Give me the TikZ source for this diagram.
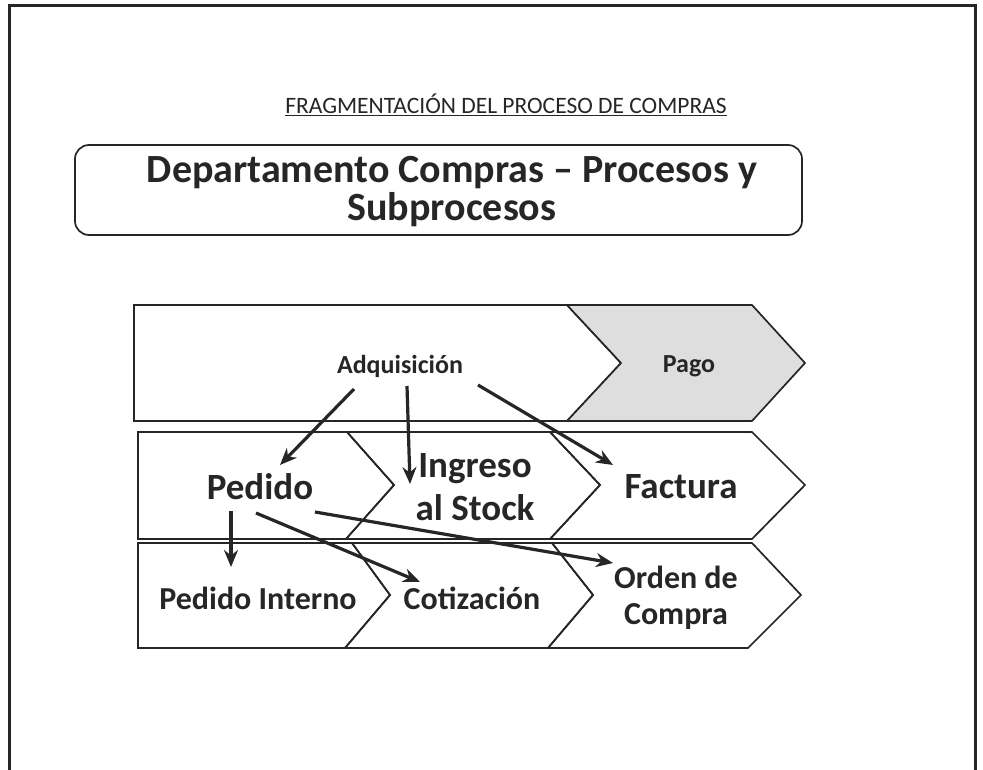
\documentclass[tikz,border=0pt]{standalone}
\usepackage{fontspec}
\setmainfont{Carlito}
\usetikzlibrary{arrows.meta}
\definecolor{ink}{HTML}{262626}
\definecolor{pagofill}{HTML}{DEDEDE}
\tikzset{
  shapeline/.style={draw=ink, line width=1.7pt, line join=miter},
  lbl/.style={text=ink, font=\bfseries, align=center, inner sep=0pt},
  conn/.style={draw=ink, line width=3.2pt, -{Stealth[length=17pt,width=14pt]}},
}
\begin{document}
\begin{tikzpicture}[x=1pt,y=-1pt]
\useasboundingbox (0,0) rectangle (983,770);
% page frame
\draw[ink, line width=3pt] (9,770) -- (9,6) -- (975,6) -- (975,770);
% title
\node[text=ink, font=\fontsize{23.5}{28}\selectfont, inner sep=0pt] (title) at (506,105) {\underline{FRAGMENTACIÓN DEL PROCESO DE COMPRAS}};
% header box
\draw[shapeline, rounded corners=14pt] (75,145) rectangle (802,235);
\node[lbl, font=\fontsize{40}{38}\bfseries\selectfont] (header) at (452,192) {Departamento Compras – Procesos y\\Subprocesos};
% row 1
\draw[shapeline] (134,305) -- (567,305) -- (621,363) -- (567,421) -- (134,421) -- cycle;
\draw[shapeline, fill=pagofill] (567,305) -- (752,305) -- (805,363) -- (752,421) -- (567,421) -- (621,363) -- cycle;
\node[lbl, font=\fontsize{26}{28}\bfseries\selectfont] (adq) at (400,366) {Adquisición};
\node[lbl, font=\fontsize{26}{28}\bfseries\selectfont] (pago) at (689,366) {Pago};
% row 2
\draw[shapeline] (138,432) -- (347,432) -- (394,485) -- (346,539) -- (138,539) -- cycle;
\draw[shapeline] (347,432) -- (550,432) -- (600,485) -- (550,539) -- (346,539) -- (394,485) -- cycle;
\draw[shapeline] (550,432) -- (752,432) -- (805,485) -- (752,539) -- (550,539) -- (600,485) -- cycle;
\node[lbl, font=\fontsize{37}{40}\bfseries\selectfont] (pedido) at (260,487) {Pedido};
\node[lbl, font=\fontsize{37}{43}\bfseries\selectfont] (ingreso) at (475,487) {Ingreso\\al Stock};
\node[lbl, font=\fontsize{37}{40}\bfseries\selectfont] (factura) at (681,487) {Factura};
% row 3
\draw[shapeline] (138,543) -- (352,543) -- (390,595) -- (345,648) -- (138,648) -- cycle;
\draw[shapeline] (352,543) -- (552,543) -- (593,595) -- (548,648) -- (345,648) -- (390,595) -- cycle;
\draw[shapeline] (552,543) -- (752,543) -- (801,595) -- (748,648) -- (548,648) -- (593,595) -- cycle;
\node[lbl, font=\fontsize{32}{36}\bfseries\selectfont] (pint) at (258,598) {Pedido Interno};
\node[lbl, font=\fontsize{32}{36}\bfseries\selectfont] (cot) at (472,598) {Cotización};
\node[lbl, font=\fontsize{32}{36}\bfseries\selectfont] (orden) at (676,598) {Orden de\\Compra};
% connector ends
\coordinate (a1) at (354,389); \coordinate (b1) at (280,465);
\coordinate (a2) at (407,386); \coordinate (b2) at (410,484);
\coordinate (a3) at (478,385); \coordinate (b3) at (613,465);
\coordinate (a4) at (231,511); \coordinate (b4) at (231,567);
\coordinate (a5) at (256,513); \coordinate (b5) at (420,582);
\coordinate (a6) at (315,512); \coordinate (b6) at (613,563);
\draw[conn] (a1) -- (b1);
\draw[conn] (a2) -- (b2);
\draw[conn] (a3) -- (b3);
\draw[conn] (a4) -- (b4);
\draw[conn] (a5) -- (b5);
\draw[conn] (a6) -- (b6);
\end{tikzpicture}
\end{document}
